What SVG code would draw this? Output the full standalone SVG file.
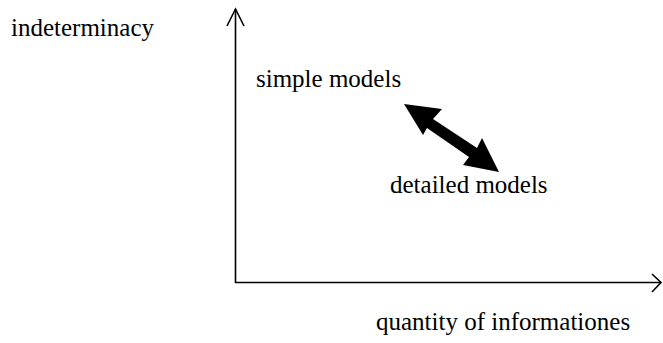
<svg xmlns="http://www.w3.org/2000/svg" width="663" height="343" viewBox="0 0 663 343">
<style>
text{font-family:"Liberation Serif","Times New Roman",serif;font-size:25px;fill:#000}
.ax{stroke:#000;stroke-width:1.6;fill:none}
</style>
<rect width="663" height="343" fill="#fff"/>
<g id="axes" class="ax">
<path d="M235.5 283 V9"/>
<path d="M227 26 L235.5 9 L244 26"/>
<path d="M235 282.5 H661"/>
<path d="M652 274 L661 282.5 L652 292"/>
</g>
<g id="connectors">
<polygon points="404,104 442,109 433,119 477,148 482,138 499,172 463,165 469,157 427,128 423,135" fill="#000"/>
</g>
<g id="label-y"><text x="11" y="36">indeterminacy</text></g>
<g id="node-simple"><text x="256" y="87">simple models</text></g>
<g id="node-detailed"><text x="390" y="193">detailed models</text></g>
<g id="label-x"><text x="376" y="330">quantity of informationes</text></g>
</svg>
